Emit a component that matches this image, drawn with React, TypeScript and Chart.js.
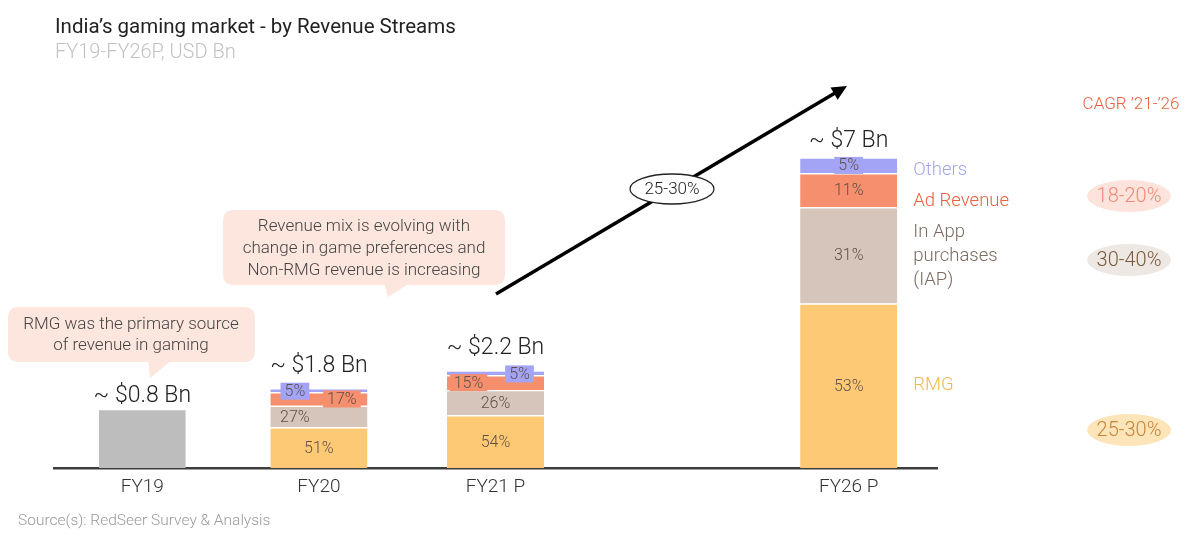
import React, { useEffect, useRef } from 'react';
import { Chart, registerables } from 'chart.js';

Chart.register(...registerables);

// ---------- data ----------
const categories = ['FY19', 'FY20', 'FY21 P', '', 'FY26 P'];
const totalLabels = ['~ $0.8 Bn', '~ $1.8 Bn', '~ $2.2 Bn', '', '~ $7 Bn'];
const totalsBn = [null, 1.8, 2.2, null, 7];
// FY19 bar is drawn taller than its value in the source picture
const fy19Bar = [1.3, null, null, null, null];
const rmgShare = [null, 51, 54, null, 53];
const iapShare = [null, 27, 26, null, 31];
const adShare = [null, 17, 15, null, 11];
const othersShare = [null, 5, 5, null, 5];
const seriesNames = ['RMG', 'In App purchases (IAP)', 'Ad Revenue', 'Others'];
const cagrLabels = ['18-20%', '30-40%', '25-30%'];
const overallCagr = '25-30%';

const FONT = 'Roboto, "Noto Sans", sans-serif';
const W = '300';
const COLORS = {
  grey: '#bdbdbd',
  rmg: '#fec974',
  iap: '#d5c5bb',
  ad: '#f68f6d',
  others: '#a4a4f6',
};

const toBn = (shares: (number | null)[]) =>
  shares.map((s, i) => (s == null || totalsBn[i] == null ? null : ((totalsBn[i] as number) * s) / 100));

const shareSets = [rmgShare, iapShare, adShare, othersShare];
const segColors = [COLORS.rmg, COLORS.iap, COLORS.ad, COLORS.others];
// horizontal nudges of the small percentage tags (per series, per category)
const labelNudge = [
  [0, 0, 0, 0, 0],
  [0, -24, 0, 0, 0],
  [0, 23, -27, 0, 0],
  [0, -24, 24, 0, 0],
];
const totalLift = [14, 22, 22, 0, 16];

function roundRect(ctx: CanvasRenderingContext2D, x: number, y: number, w: number, h: number, r: number) {
  ctx.beginPath();
  ctx.moveTo(x + r, y);
  ctx.lineTo(x + w - r, y);
  ctx.quadraticCurveTo(x + w, y, x + w, y + r);
  ctx.lineTo(x + w, y + h - r);
  ctx.quadraticCurveTo(x + w, y + h, x + w - r, y + h);
  ctx.lineTo(x + r, y + h);
  ctx.quadraticCurveTo(x, y + h, x, y + h - r);
  ctx.lineTo(x, y + r);
  ctx.quadraticCurveTo(x, y, x + r, y);
  ctx.closePath();
}

const decorPlugin = {
  id: 'decor',
  afterDraw(chart: any) {
    const ctx: CanvasRenderingContext2D = chart.ctx;
    ctx.save();

    // Title & subtitle
    ctx.textAlign = 'left';
    ctx.textBaseline = 'middle';
    ctx.fillStyle = '#222';
    ctx.font = `20.5px ${FONT}`;
    ctx.fillText('India’s gaming market - by Revenue Streams', 55, 28);
    ctx.fillStyle = '#c2c2c2';
    ctx.font = `${W} 20px ${FONT}`;
    ctx.fillText('FY19-FY26P, USD Bn', 55, 53);

    // Source
    ctx.fillStyle = '#9a9a9a';
    ctx.font = `${W} 15.5px ${FONT}`;
    ctx.fillText('Source(s): RedSeer Survey & Analysis', 18, 521);

    // Callouts
    const callout = (x: number, y: number, w: number, h: number, tail: number[][], lines: string[], cx: number, ly: number[]) => {
      ctx.fillStyle = '#fde6de';
      roundRect(ctx, x, y, w, h, 11);
      ctx.fill();
      ctx.beginPath();
      ctx.moveTo(tail[0][0], tail[0][1]);
      ctx.lineTo(tail[1][0], tail[1][1]);
      ctx.lineTo(tail[2][0], tail[2][1]);
      ctx.closePath();
      ctx.fill();
      ctx.fillStyle = '#444';
      ctx.font = `${W} 17px ${FONT}`;
      ctx.textAlign = 'center';
      lines.forEach((l, k) => ctx.fillText(l, cx, ly[k]));
    };
    callout(8, 307, 247, 55, [[148, 360], [172, 360], [150, 378]],
      ['RMG was the primary source', 'of revenue in gaming'], 131, [325, 346]);
    callout(223, 210, 282, 75, [[384, 283], [410, 283], [388, 297]],
      ['Revenue mix is evolving with', 'change in game preferences and', 'Non-RMG revenue is increasing'], 364, [227, 249, 271]);

    // Growth arrow
    const x0 = 496, y0 = 294, x1 = 847, y1 = 86;
    const ang = Math.atan2(y1 - y0, x1 - x0);
    ctx.strokeStyle = '#000';
    ctx.lineWidth = 3.5;
    ctx.beginPath();
    ctx.moveTo(x0, y0);
    ctx.lineTo(x1 - 10 * Math.cos(ang), y1 - 10 * Math.sin(ang));
    ctx.stroke();
    ctx.fillStyle = '#000';
    ctx.beginPath();
    ctx.moveTo(x1, y1);
    ctx.lineTo(x1 - 15 * Math.cos(ang) + 7 * Math.sin(ang), y1 - 15 * Math.sin(ang) - 7 * Math.cos(ang));
    ctx.lineTo(x1 - 15 * Math.cos(ang) - 7 * Math.sin(ang), y1 - 15 * Math.sin(ang) + 7 * Math.cos(ang));
    ctx.closePath();
    ctx.fill();
    ctx.beginPath();
    ctx.ellipse(672, 189, 42, 15, 0, 0, Math.PI * 2);
    ctx.fillStyle = '#fff';
    ctx.fill();
    ctx.lineWidth = 1.3;
    ctx.strokeStyle = '#222';
    ctx.stroke();
    ctx.fillStyle = '#222';
    ctx.font = `${W} 17px ${FONT}`;
    ctx.textAlign = 'center';
    ctx.fillText(overallCagr, 672, 190);

    // Segment percentage labels
    ctx.font = `${W} 16px ${FONT}`;
    shareSets.forEach((shares, k) => {
      const meta = chart.getDatasetMeta(k + 1);
      shares.forEach((s, i) => {
        if (s == null) return;
        const el = meta.data[i];
        const top = el.y, base = el.base;
        const h = base - top;
        const x = el.x + labelNudge[k][i];
        const y = (top + base) / 2 + (h < 8 ? 1 : 0);
        const txt = `${s}%`;
        if (h < 22) {
          const tw = ctx.measureText(txt).width + 8;
          ctx.fillStyle = segColors[k];
          ctx.fillRect(x - tw / 2, y - 8.5, tw, 17);
        }
        ctx.fillStyle = '#5e5048';
        ctx.fillText(txt, x, y + 1);
      });
    });

    // Total labels
    ctx.font = `${W} 23px ${FONT}`;
    ctx.fillStyle = '#222';
    totalLabels.forEach((lab, i) => {
      if (!lab) return;
      let top = Infinity, x = 0;
      chart.data.datasets.forEach((ds: any, d: number) => {
        if (ds.data[i] == null) return;
        const el = chart.getDatasetMeta(d).data[i];
        if (el.y < top) { top = el.y; x = el.x; }
      });
      ctx.fillText(lab, x, top - totalLift[i]);
    });

    // Series labels next to FY26 bar
    const lastMeta = chart.getDatasetMeta(1).data[4];
    const lx = lastMeta.x + lastMeta.width / 2 + 16;
    ctx.textAlign = 'left';
    ctx.font = `${W} 18.5px ${FONT}`;
    ctx.fillStyle = '#a4a4ee';
    ctx.fillText(seriesNames[3], lx, 170);
    ctx.fillStyle = '#e8623e';
    ctx.fillText(seriesNames[2], lx, 201);
    ctx.fillStyle = '#7c6b61';
    ctx.fillText('In App', lx, 232);
    ctx.fillText('purchases', lx, 256);
    ctx.fillText('(IAP)', lx, 280);
    ctx.fillStyle = '#f6b651';
    ctx.fillText(seriesNames[0], lx, 385);

    // CAGR column
    ctx.textAlign = 'center';
    ctx.font = `${W} 17px ${FONT}`;
    ctx.fillStyle = '#e8623e';
    ctx.fillText('CAGR ’21-’26', 1131, 105);
    const pills = [
      { t: cagrLabels[0], y: 196, fill: '#fde3dc', color: '#ef8a78' },
      { t: cagrLabels[1], y: 260, fill: '#eee8e4', color: '#7a5a3a' },
      { t: cagrLabels[2], y: 430, fill: '#fee5b9', color: '#c5853a' },
    ];
    ctx.font = `${W} 20px ${FONT}`;
    pills.forEach((p) => {
      ctx.beginPath();
      ctx.ellipse(1129, p.y, 42, 16, 0, 0, Math.PI * 2);
      ctx.fillStyle = p.fill;
      ctx.fill();
      ctx.fillStyle = p.color;
      ctx.fillText(p.t, 1129, p.y + 1);
    });

    ctx.restore();
  },
};

export default function App() {
  const ref = useRef<HTMLCanvasElement>(null);
  useEffect(() => {
    if (!ref.current) return;
    const seg = (label: string, data: (number | null)[], color: string) => ({
      label,
      data,
      backgroundColor: color,
      borderColor: '#ffffff',
      borderWidth: { top: 1.2, left: 0, right: 0, bottom: 0 },
      borderSkipped: false,
      stack: 's',
      barPercentage: 0.55,
      categoryPercentage: 1,
    });
    const chart = new Chart(ref.current, {
      type: 'bar',
      data: {
        labels: categories,
        datasets: [
          { ...seg('Total', fy19Bar, COLORS.grey), barPercentage: 0.49, borderWidth: 0 },
          seg(seriesNames[0], toBn(rmgShare), COLORS.rmg),
          seg(seriesNames[1], toBn(iapShare), COLORS.iap),
          seg(seriesNames[2], toBn(adShare), COLORS.ad),
          seg(seriesNames[3], toBn(othersShare), COLORS.others),
        ] as any,
      },
      options: {
        animation: false,
        responsive: false,
        maintainAspectRatio: false,
        layout: { padding: { left: 54, right: 263, top: 69, bottom: 0 } },
        plugins: { legend: { display: false }, tooltip: { enabled: false }, title: { display: false } },
        scales: {
          x: {
            stacked: true,
            offset: true,
            z: 1,
            grid: { display: false, drawTicks: false },
            border: { display: true, color: '#3d3d3d', width: 2.5 },
            ticks: { color: '#333', font: { family: FONT, size: 19, weight: '300' }, padding: 8 },
            afterFit: (s: any) => { s.height = 74; },
          },
          y: { stacked: true, display: false, min: 0, max: 9 },
        },
      } as any,
      plugins: [decorPlugin],
    });
    return () => chart.destroy();
  }, []);
  return (
    <div style={{ position: 'fixed', left: 0, top: 0, width: 1200, height: 542, background: '#fff' }}>
      <canvas ref={ref} width={1200} height={542} style={{ width: 1200, height: 542, display: 'block' }} />
    </div>
  );
}
